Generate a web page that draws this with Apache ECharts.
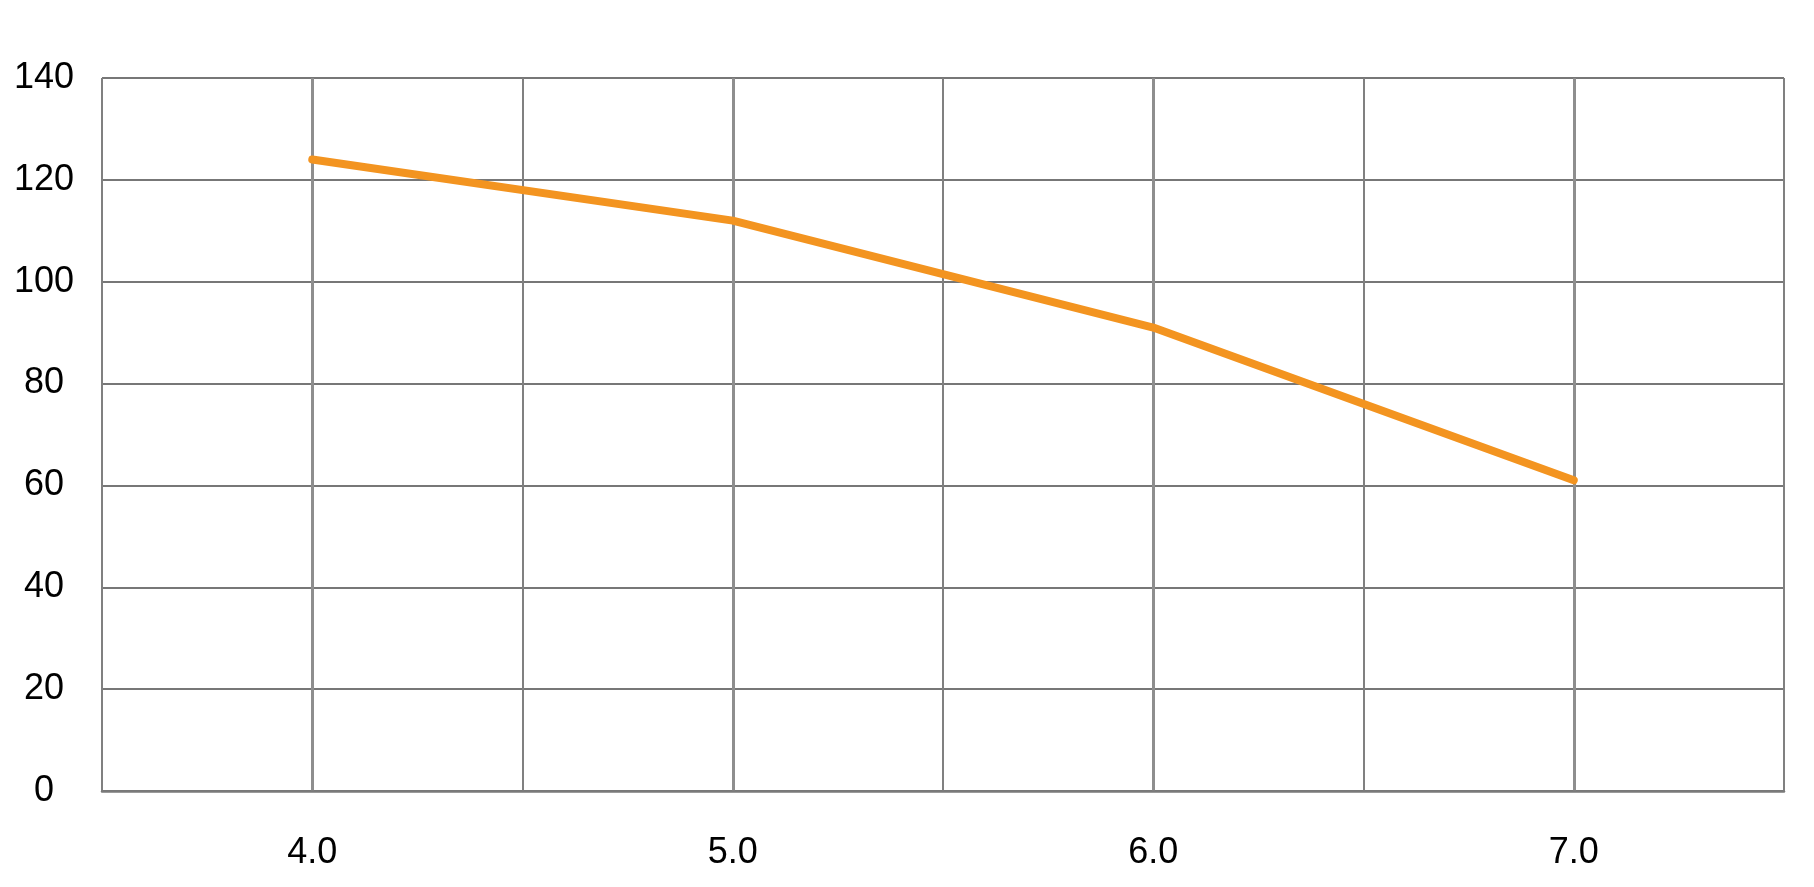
<!DOCTYPE html>
<html>
<head>
<meta charset="utf-8">
<script src="https://cdn.jsdelivr.net/npm/echarts@6/dist/echarts.min.js"></script>
<style>
html,body{margin:0;padding:0;background:#fff;}
#chart{width:1814px;height:887px;}
</style>
</head>
<body>
<div id="chart"></div>
<script>
const xValues = [4.0, 5.0, 6.0, 7.0];
const yValues = [124, 112, 91, 61];
const xTickLabels = ['4.0', '5.0', '6.0', '7.0'];
const yTickValues = [0, 20, 40, 60, 80, 100, 120, 140];

const chart = echarts.init(document.getElementById('chart'));
const fontFamily = "'Liberation Sans', Arial, sans-serif";
chart.setOption({
  animation: false,
  backgroundColor: '#ffffff',
  grid: { left: 102, right: 30, top: 78, bottom: 96, containLabel: false },
  xAxis: [{
    type: 'value',
    min: 3.5,
    max: 7.5,
    interval: 0.5,
    axisLine: { show: true, lineStyle: { color: '#7a7a7a', width: 2.5 } },
    axisTick: { show: false },
    splitLine: { show: true, lineStyle: { color: '#808080', width: 2 } },
    axisLabel: {
      margin: 44,
      fontSize: 36,
      fontFamily: fontFamily,
      color: '#000',
      showMinLabel: true,
      showMaxLabel: true,
      formatter: function (v) {
        const i = xValues.indexOf(Number(v));
        return i >= 0 ? xTickLabels[i] : '';
      }
    }
  }, {
    type: 'value',
    position: 'bottom',
    min: 3.5,
    max: 7.5,
    interval: 0.5,
    axisLine: { show: false },
    axisTick: { show: false },
    axisLabel: { show: false },
    splitLine: { show: true, lineStyle: { color: ['rgba(0,0,0,0)', '#8e8e8e'], width: 3 } }
  }],
  yAxis: {
    type: 'value',
    min: yTickValues[0],
    max: yTickValues[yTickValues.length - 1],
    interval: 20,
    axisLine: { show: false },
    axisTick: { show: false },
    splitLine: { show: true, lineStyle: { color: '#777777', width: 2 } },
    axisLabel: {
      margin: 58,
      align: 'center',
      fontSize: 36,
      fontFamily: fontFamily,
      color: '#000',
      padding: [4, 0, 0, 0]
    }
  },
  series: [{
    type: 'line',
    xAxisIndex: 0,
    data: xValues.map((x, i) => [x, yValues[i]]),
    showSymbol: false,
    symbol: 'none',
    lineStyle: { color: '#F39420', width: 8, cap: 'round', join: 'round' },
    itemStyle: { color: '#F39420' }
  }]
});
</script>
</body>
</html>
